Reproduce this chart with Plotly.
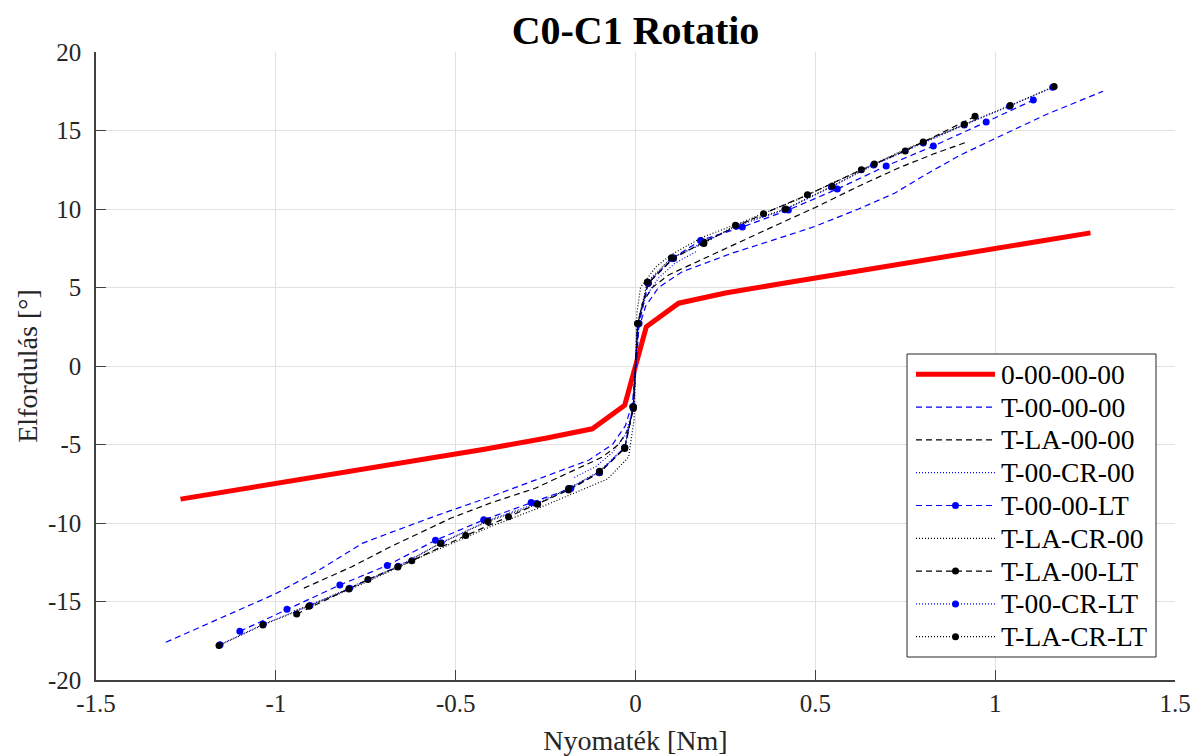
import plotly.graph_objects as go

# ---------------- data ----------------
red_x = [-1.265, -0.8, -0.42, -0.25, -0.12, -0.03, 0.0, 0.03, 0.12, 0.25, 0.42, 0.8, 1.265]
red_y = [-8.48, -6.75, -5.3, -4.6, -4.0, -2.5, 0.0, 2.5, 4.0, 4.65, 5.3, 6.75, 8.48]

t000000_x = [-1.306, -1.07, -1.0, -0.88, -0.76, -0.68, -0.55, -0.4, -0.28, -0.214, -0.13, -0.064, -0.028, -0.008, 0.0,
             0.008, 0.028, 0.064, 0.13, 0.214, 0.27, 0.38, 0.5, 0.62, 0.72, 0.8, 0.9, 1.01, 1.15, 1.3]
t000000_y = [-17.6, -15.2, -14.5, -13.0, -11.3, -10.6, -9.5, -8.3, -7.3, -6.7, -6.0, -5.0, -3.8, -2.3, 0.0,
             2.3, 3.8, 5.0, 6.0, 6.75, 7.2, 8.0, 8.9, 10.0, 11.0, 12.1, 13.4, 14.6, 16.1, 17.5]

tla0000_x = [-0.922, -0.79, -0.68, -0.514, -0.4, -0.28, -0.158, -0.092, -0.047, -0.019, -0.006, 0.0,
             0.006, 0.019, 0.047, 0.092, 0.158, 0.278, 0.375, 0.5, 0.625, 0.73, 0.828, 0.925]
tla0000_y = [-14.15, -12.8, -11.5, -9.7, -8.7, -7.8, -6.5, -5.8, -5.0, -4.0, -2.6, 0.0,
             2.6, 4.0, 5.0, 5.8, 6.5, 7.8, 8.8, 10.1, 11.5, 12.6, 13.5, 14.3]

t00cr00_x = [-0.17, -0.11, -0.064, -0.028, -0.004, 0.0, 0.004, 0.028, 0.064, 0.11, 0.17]
t00cr00_y = [-7.1, -6.4, -5.5, -4.4, -2.5, 0.0, 2.5, 4.4, 5.6, 6.55, 7.3]

t0000lt_x = [-1.1, -0.969, -0.822, -0.69, -0.556, -0.422, -0.29, -0.18, -0.1, -0.03, -0.006,
             0.01, 0.036, 0.106, 0.181, 0.297, 0.425, 0.561, 0.697, 0.828, 0.975, 1.106]
t0000lt_y = [-16.9, -15.5, -13.95, -12.7, -11.1, -9.8, -8.7, -7.8, -6.75, -5.2, -2.6,
             2.7, 5.3, 6.9, 8.0, 8.85, 9.94, 11.27, 12.74, 14.01, 15.54, 16.94]

tlacr00_x = [-0.95, -0.8, -0.6, -0.4, -0.264, -0.17, -0.078, -0.019, -0.004, 0.0,
             0.004, 0.014, 0.056, 0.1, 0.186, 0.3, 0.45, 0.6, 0.75, 0.95]
tlacr00_y = [-15.6, -14.3, -12.2, -10.2, -9.0, -8.1, -7.2, -5.8, -3.4, 0.0,
             3.4, 5.0, 6.3, 7.1, 8.2, 9.2, 10.6, 12.2, 13.8, 15.7]

tla00lt_x = [-0.942, -0.744, -0.622, -0.472, -0.353, -0.186, -0.1, -0.03, -0.006,
             0.006, 0.035, 0.105, 0.19, 0.356, 0.478, 0.628, 0.75, 0.944]
tla00lt_y = [-15.8, -13.6, -12.4, -10.8, -9.6, -7.9, -6.8, -5.25, -2.7,
             2.7, 5.25, 6.85, 7.9, 9.7, 10.9, 12.5, 13.7, 15.9]

t00crlt_x = [-1.155, -1.035, -0.905, -0.795, -0.66, -0.54, -0.41, -0.275, -0.184, -0.1, -0.03, -0.008,
             0.008, 0.034, 0.1, 0.186, 0.28, 0.415, 0.545, 0.662, 0.8, 0.914, 1.04, 1.16]
t00crlt_y = [-17.75, -16.45, -15.25, -14.15, -12.75, -11.25, -9.85, -8.75, -7.8, -6.75, -5.2, -2.6,
             2.7, 5.3, 6.85, 7.85, 8.9, 9.95, 11.4, 12.8, 14.2, 15.35, 16.55, 17.75]

tlacrlt_x = [-1.158, -1.036, -0.908, -0.797, -0.661, -0.542, -0.411, -0.272, -0.186, -0.1, -0.03, -0.006,
             0.006, 0.033, 0.1, 0.19, 0.278, 0.417, 0.547, 0.664, 0.8, 0.914, 1.042, 1.164]
tlacrlt_y = [-17.8, -16.5, -15.3, -14.2, -12.8, -11.3, -9.9, -8.8, -7.8, -6.7, -5.2, -2.6,
             2.7, 5.35, 6.9, 7.8, 8.97, 10.0, 11.47, 12.87, 14.27, 15.4, 16.6, 17.8]

x_ticks = [-1.5, -1, -0.5, 0, 0.5, 1, 1.5]
x_labels = ["-1.5", "-1", "-0.5", "0", "0.5", "1", "1.5"]
y_ticks = [-20, -15, -10, -5, 0, 5, 10, 15, 20]
y_labels = ["-20", "-15", "-10", "-5", "0", "5", "10", "15", "20"]

title = "C0-C1 Rotatio"
x_title = "Nyomaték [Nm]"
y_title = "Elfordulás [°]"

# ---------------- figure ----------------
W, H = 1196, 756
L, R, T, B = 96, 1175, 52, 680          # plot area in pixels
FONT = "Liberation Serif, Times New Roman, serif"
BLUE = "rgb(0,0,255)"
BLACK = "rgb(0,0,0)"
RED = "rgb(255,0,0)"
DASH = "6px,4px"
DOT = "1px,2px"
TXT = "rgb(38,38,38)"

series = [
    ("0-00-00-00", red_x, red_y, RED, "solid", 5, False),
    ("T-00-00-00", t000000_x, t000000_y, BLUE, DASH, 1.2, False),
    ("T-LA-00-00", tla0000_x, tla0000_y, BLACK, DASH, 1.2, False),
    ("T-00-CR-00", t00cr00_x, t00cr00_y, BLUE, DOT, 1.2, False),
    ("T-00-00-LT", t0000lt_x, t0000lt_y, BLUE, DASH, 1.2, True),
    ("T-LA-CR-00", tlacr00_x, tlacr00_y, BLACK, DOT, 1.2, False),
    ("T-LA-00-LT", tla00lt_x, tla00lt_y, BLACK, DASH, 1.2, True),
    ("T-00-CR-LT", t00crlt_x, t00crlt_y, BLUE, DOT, 1.2, True),
    ("T-LA-CR-LT", tlacrlt_x, tlacrlt_y, BLACK, DOT, 1.2, True),
]

fig = go.Figure()
for name, xs, ys, col, dash, w, mk in series:
    fig.add_trace(go.Scatter(
        x=xs, y=ys, name=name, showlegend=False,
        mode="lines+markers" if mk else "lines",
        line=dict(color=col, width=w, dash=dash),
        marker=dict(color=col, size=7) if mk else None,
    ))


def px_x(p):
    return (p - L) / (R - L)


def px_y(p):
    return (B - p) / (B - T)


# ---- legend drawn manually (MATLAB-style long line samples) ----
shapes = []
annotations = []
box_l, box_r, box_t, box_b = 907, 1156, 354, 657
shapes.append(dict(type="rect", xref="paper", yref="paper",
                   x0=px_x(box_l), x1=px_x(box_r), y0=px_y(box_b), y1=px_y(box_t),
                   line=dict(color=TXT, width=1), fillcolor="white", layer="above"))
row0, row_step = 374.3, 32.8
for i, (name, xs, ys, col, dash, w, mk) in enumerate(series):
    yy = px_y(row0 + i * row_step)
    shapes.append(dict(type="line", xref="paper", yref="paper",
                       x0=px_x(916), x1=px_x(995), y0=yy, y1=yy,
                       line=dict(color=col, width=w, dash=dash), layer="above"))
    if mk:
        shapes.append(dict(type="circle", xref="paper", yref="paper",
                           xsizemode="pixel", ysizemode="pixel",
                           xanchor=px_x(955.5), yanchor=yy,
                           x0=-3.5, x1=3.5, y0=-3.5, y1=3.5,
                           line=dict(color=col, width=0), fillcolor=col, layer="above"))
    annotations.append(dict(xref="paper", yref="paper", x=px_x(999), y=yy,
                            xanchor="left", yanchor="middle", showarrow=False,
                            text=name, font=dict(family=FONT, size=27.5, color="black")))

axis_common = dict(
    showgrid=True, gridcolor="rgb(225,225,225)", gridwidth=1,
    zeroline=False, showline=True, linecolor="rgb(64,64,64)", linewidth=1.5,
    ticks="inside", ticklen=10, tickcolor="rgb(64,64,64)", tickwidth=1,
    tickfont=dict(family=FONT, size=25, color=TXT),
    mirror=False, automargin=False,
)

fig.update_layout(
    width=W, height=H,
    margin=dict(l=L, r=W - R, t=T, b=H - B),
    paper_bgcolor="white", plot_bgcolor="white",
    font=dict(family=FONT, color=TXT),
    title=dict(text="<b>" + title + "</b>", x=(L + R) / 2 / W, xanchor="center",
               y=1 - 30 / H, yanchor="middle",
               font=dict(family=FONT, size=40, color="black")),
    xaxis=dict(range=[-1.5, 1.5], tickvals=x_ticks, ticktext=x_labels,
               title=dict(text=x_title, font=dict(family=FONT, size=28, color=TXT), standoff=15),
               **axis_common),
    yaxis=dict(range=[-20, 20], tickvals=y_ticks, ticktext=y_labels, ticklabelstandoff=8,
               title=dict(text=y_title, font=dict(family=FONT, size=28, color=TXT), standoff=2),
               **axis_common),
    shapes=shapes,
    annotations=annotations,
    showlegend=False,
)

fig.write_html("out.html",
               config={"displayModeBar": False},
               post_script="document.body.style.margin='0';document.body.style.overflow='hidden';")
